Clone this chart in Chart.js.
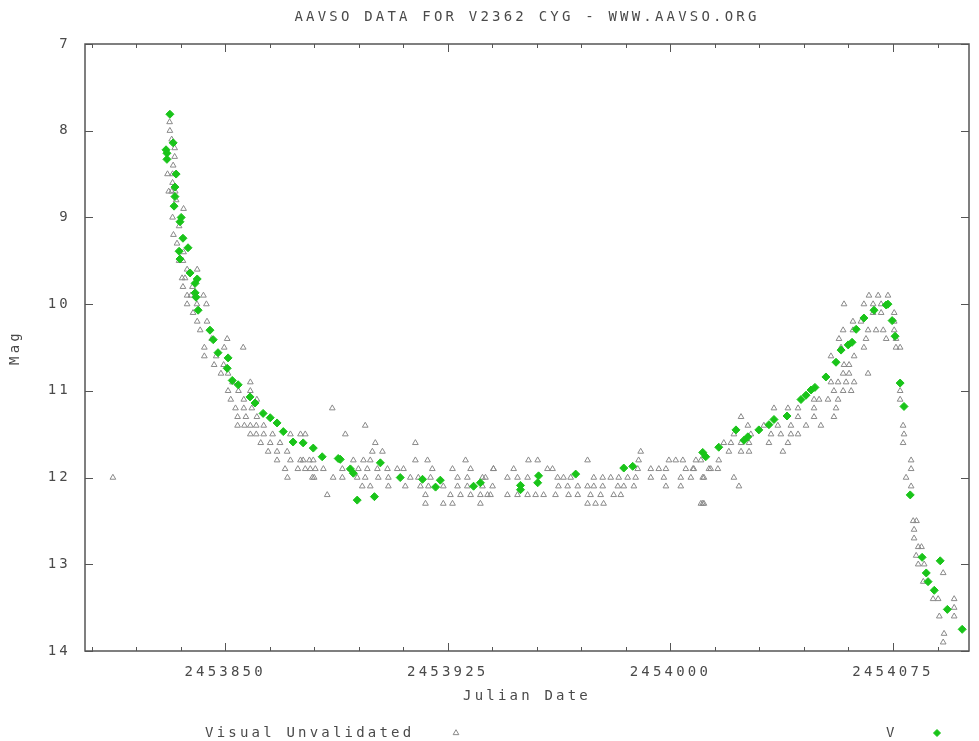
<html>
<head>
<style>
  body { margin: 0; background: #fff; }
  canvas { display: block; }
</style>
<script src="https://cdn.jsdelivr.net/npm/chart.js@4.4.0/dist/chart.umd.min.js"></script>
</head>
<body>
<canvas id="lc" width="979" height="741"></canvas>
<script>
// AAVSO light curve of V2362 Cyg
var titleText = 'AAVSO DATA FOR V2362 CYG - WWW.AAVSO.ORG';
var xMajorTicks = [2453850, 2453925, 2454000, 2454075];
var xMinorTicks = [2453805, 2453820, 2453835, 2453850, 2453865, 2453880, 2453895, 2453910, 2453925,
  2453940, 2453955, 2453970, 2453985, 2454000, 2454015, 2454030, 2454045, 2454060, 2454075, 2454090];
var yTicks = [7, 8, 9, 10, 11, 12, 13, 14];

// Visual Unvalidated (grey triangles)
var visJD = [
  2453812.2,
  2453831.3, 2453831.4, 2453832.0, 2453833.0, 2453833.0, 2453832.5, 2453830.6, 2453832.3, 2453832.3, 2453831.0,
  2453832.0, 2453833.2, 2453833.5, 2453836.0, 2453832.3, 2453834.5, 2453832.6, 2453833.8, 2453836.0, 2453835.8,
  2453837.2, 2453840.6, 2453835.5, 2453835.8, 2453839.0, 2453837.2, 2453842.7, 2453837.2, 2453843.7, 2453839.2,
  2453840.6, 2453843.9, 2453841.6, 2453850.7, 2453843.0, 2453849.7, 2453856.1, 2453843.0, 2453846.3, 2453848.6,
  2453851.0, 2453858.5, 2453851.0, 2453858.5, 2453851.9, 2453856.3, 2453860.7, 2453856.3, 2453854.2, 2453860.7,
  2453854.2, 2453858.5, 2453863.0, 2453858.5, 2453863.0, 2453872.0, 2453875.4, 2453865.2, 2453867.5, 2453870.9,
  2453867.5, 2453875.4, 2453878.4, 2453870.2, 2453878.7,
  2453852.5, 2453854.5, 2453853.5, 2453859.0, 2453857.0, 2453856.5, 2453860.5, 2453860.5, 2453866.0, 2453862.0,
  2453868.5, 2453864.5, 2453872.0, 2453874.5, 2453871.0, 2453880.0, 2453845.5, 2453847.0, 2453849.5, 2453838.5,
  2453840.5, 2453834.5, 2453836.5,
  2453886.1, 2453897.2, 2453890.5, 2453877.0, 2453900.6, 2453914.1, 2453899.6, 2453903.0,
  2453876.3, 2453879.7, 2453893.2, 2453896.6, 2453898.9, 2453914.1, 2453918.2, 2453931.0,
  2453877.0, 2453880.4, 2453883.1, 2453889.5, 2453892.2, 2453894.9, 2453897.9, 2453901.3, 2453904.7, 2453908.0,
  2453910.1, 2453919.8, 2453926.6, 2453932.7, 2453940.4,
  2453879.4, 2453886.4, 2453889.5, 2453894.5, 2453897.2, 2453901.6, 2453905.0, 2453912.4, 2453915.1, 2453919.2,
  2453928.3, 2453931.6, 2453936.7,
  2453896.2, 2453898.9, 2453905.0, 2453910.7, 2453915.8, 2453918.5, 2453923.5, 2453928.3, 2453931.6, 2453936.7,
  2453940.1,
  2453884.4, 2453917.5, 2453925.9, 2453929.3, 2453932.7, 2453936.0, 2453939.4,
  2453917.5, 2453923.5, 2453926.6, 2453936.0,
  2453990.0,
  2453952.2, 2453955.3, 2453972.1, 2453989.3, 2453999.5, 2454001.8, 2454004.2, 2454010.3,
  2453940.4, 2453947.2, 2453958.6, 2453960.3, 2453989.0, 2453993.4, 2453996.1, 2453998.5, 2454005.2, 2454007.9,
  2454013.6,
  2453937.7, 2453945.1, 2453948.5, 2453951.9, 2453962.0, 2453964.0, 2453966.4, 2453974.2, 2453977.2, 2453979.9,
  2453982.6, 2453985.6, 2453988.3, 2453993.4, 2453997.8, 2454003.5, 2454010.9,
  2453962.3, 2453965.4, 2453968.8, 2453972.1, 2453974.2, 2453977.2, 2453982.3, 2453984.3, 2453987.7, 2453998.5,
  2454003.5,
  2453938.4, 2453945.1, 2453948.5, 2453951.9, 2453954.6, 2453957.3, 2453961.3, 2453965.7, 2453968.8, 2453973.1,
  2453976.5, 2453980.9, 2453983.3,
  2453972.1, 2453974.8, 2453977.5, 2454010.9, 2454011.3, 2454010.3,
  2454007.6, 2454013.0, 2454016.0, 2454008.6, 2454016.3, 2454006.9, 2454011.3, 2454021.4, 2454023.1,
  2454019.7, 2454023.8, 2454026.5, 2454037.9,
  2454018.0, 2454020.4, 2454023.8, 2454026.5, 2454033.2, 2454039.6,
  2454021.4, 2454027.1, 2454033.9, 2454037.2, 2454040.6, 2454043.0,
  2454026.1, 2454031.5, 2454036.2, 2454040.6, 2454045.7, 2454050.7,
  2454023.8, 2454043.0, 2454048.4, 2454055.1,
  2454034.9, 2454039.6, 2454043.0, 2454048.4, 2454055.8,
  2454048.4, 2454050.1, 2454053.1, 2454056.5,
  2454055.1, 2454058.2, 2454060.9,
  2454054.1, 2454056.5, 2454059.2, 2454061.9,
  2454058.2, 2454060.2, 2454066.6,
  2454058.5, 2454060.2,
  2454054.1, 2454061.9,
  2454057.5, 2454065.2, 2454076.0,
  2454056.8, 2454065.9, 2454072.7, 2454076.0,
  2454058.2, 2454061.5, 2454066.6, 2454069.3, 2454071.7, 2454075.4,
  2454061.5, 2454064.2, 2454075.4,
  2454068.3, 2454071.0, 2454075.4,
  2454058.5, 2454065.2, 2454068.3, 2454071.0,
  2454066.9, 2454070.0, 2454073.3,
  2454077.4, 2454077.4, 2454077.4, 2454078.4, 2454078.7, 2454078.4, 2454081.1, 2454081.1, 2454079.4, 2454081.1,
  2454081.8, 2454082.9, 2454082.1, 2454082.1, 2454083.5, 2454084.6, 2454082.8, 2454083.5, 2454085.5, 2454091.9,
  2454085.2, 2454088.5, 2454090.2, 2454095.6, 2454095.6, 2454090.6, 2454095.6, 2454092.2, 2454091.9
];
var visMag = [
  12.0,
  7.9, 8.0, 8.1, 8.2, 8.3, 8.4, 8.5, 8.5, 8.6, 8.7,
  8.7, 8.7, 8.8, 8.9, 9.0, 9.1, 9.2, 9.3, 9.4, 9.5,
  9.6, 9.6, 9.7, 9.8, 9.8, 9.9, 9.9, 10.0, 10.0, 10.1,
  10.2, 10.2, 10.3, 10.4, 10.5, 10.5, 10.5, 10.6, 10.7, 10.8,
  10.8, 10.9, 11.0, 11.0, 11.1, 11.1, 11.1, 11.2, 11.3, 11.3,
  11.4, 11.4, 11.4, 11.5, 11.5, 11.5, 11.5, 11.6, 11.7, 11.7,
  11.8, 11.8, 11.8, 11.9, 11.9,
  10.9, 11.0, 11.2, 11.2, 11.3, 11.4, 11.4, 11.5, 11.5, 11.6,
  11.6, 11.7, 11.8, 11.9, 12.0, 12.0, 10.4, 10.6, 10.7, 9.9,
  10.0, 9.5, 9.7,
  11.2, 11.4, 11.5, 11.5, 11.6, 11.6, 11.7, 11.7,
  11.8, 11.8, 11.8, 11.8, 11.8, 11.8, 11.8, 11.8,
  11.9, 11.9, 11.9, 11.9, 11.9, 11.9, 11.9, 11.9, 11.9, 11.9,
  11.9, 11.9, 11.9, 11.9, 11.9,
  12.0, 12.0, 12.0, 12.0, 12.0, 12.0, 12.0, 12.0, 12.0, 12.0,
  12.0, 12.0, 12.0,
  12.1, 12.1, 12.1, 12.1, 12.1, 12.1, 12.1, 12.1, 12.1, 12.1,
  12.1,
  12.2, 12.2, 12.2, 12.2, 12.2, 12.2, 12.2,
  12.3, 12.3, 12.3, 12.3,
  11.7,
  11.8, 11.8, 11.8, 11.8, 11.8, 11.8, 11.8, 11.8,
  11.9, 11.9, 11.9, 11.9, 11.9, 11.9, 11.9, 11.9, 11.9, 11.9,
  11.9,
  12.0, 12.0, 12.0, 12.0, 12.0, 12.0, 12.0, 12.0, 12.0, 12.0,
  12.0, 12.0, 12.0, 12.0, 12.0, 12.0, 12.0,
  12.1, 12.1, 12.1, 12.1, 12.1, 12.1, 12.1, 12.1, 12.1, 12.1,
  12.1,
  12.2, 12.2, 12.2, 12.2, 12.2, 12.2, 12.2, 12.2, 12.2, 12.2,
  12.2, 12.2, 12.2,
  12.3, 12.3, 12.3, 12.3, 12.3, 12.3,
  11.9, 11.9, 11.9, 11.8, 11.8, 12.0, 12.0, 12.0, 12.1,
  11.7, 11.7, 11.7, 11.7,
  11.6, 11.6, 11.6, 11.6, 11.6, 11.6,
  11.5, 11.5, 11.5, 11.5, 11.5, 11.5,
  11.4, 11.4, 11.4, 11.4, 11.4, 11.4,
  11.3, 11.3, 11.3, 11.3,
  11.2, 11.2, 11.2, 11.2, 11.2,
  11.1, 11.1, 11.1, 11.1,
  11.0, 11.0, 11.0,
  10.9, 10.9, 10.9, 10.9,
  10.8, 10.8, 10.8,
  10.7, 10.7,
  10.6, 10.6,
  10.5, 10.5, 10.5,
  10.4, 10.4, 10.4, 10.4,
  10.3, 10.3, 10.3, 10.3, 10.3, 10.3,
  10.2, 10.2, 10.2,
  10.1, 10.1, 10.1,
  10.0, 10.0, 10.0, 10.0,
  9.9, 9.9, 9.9,
  10.5, 11.0, 11.1, 11.4, 11.5, 11.6, 11.8, 11.9, 12.0, 12.1,
  12.5, 12.5, 12.6, 12.7, 12.8, 12.8, 12.9, 13.0, 13.0, 13.1,
  13.2, 13.4, 13.4, 13.4, 13.5, 13.6, 13.6, 13.8, 13.9
];

// V (green)
var vJD = [
  2453830.1, 2453830.4, 2453830.4, 2453831.4, 2453832.5, 2453833.5, 2453833.1, 2453833.1, 2453832.8, 2453835.2,
  2453834.8, 2453835.8, 2453837.5, 2453834.5, 2453834.8, 2453838.2, 2453840.6, 2453839.9, 2453839.9, 2453840.2,
  2453840.9, 2453844.9, 2453846.0, 2453847.6, 2453851.0, 2453850.7, 2453852.4, 2453854.4, 2453858.4, 2453860.1,
  2453862.8, 2453865.2, 2453867.5, 2453869.6, 2453872.9, 2453876.3, 2453879.7, 2453882.7, 2453888.1, 2453888.8,
  2453892.2, 2453893.2, 2453902.3, 2453909.0, 2453916.5, 2453922.5, 2453920.9, 2453933.7, 2453936.0, 2453949.5,
  2453949.5, 2453955.6, 2453955.3, 2453968.1, 2453984.3, 2453987.3, 2454010.9, 2454011.9, 2454016.3, 2454022.1,
  2454024.8, 2454026.1, 2454029.8, 2454033.2, 2454034.9, 2454039.3, 2454044.0, 2454045.7, 2454047.4, 2454048.7,
  2454052.4, 2454055.8, 2454057.5, 2454059.9, 2454061.2, 2454062.6, 2454065.2, 2454068.6, 2454072.7, 2454073.3,
  2454074.7, 2454075.7, 2454077.4, 2454078.7, 2454080.8, 2454084.8, 2454090.9, 2454086.2, 2454086.8, 2454088.9,
  2454093.3, 2454098.3, 2453894.5, 2453900.3
];
var vMag = [
  8.22, 8.26, 8.33, 7.81, 8.14, 8.50, 8.65, 8.76, 8.87, 9.00,
  9.05, 9.24, 9.35, 9.39, 9.48, 9.64, 9.71, 9.76, 9.87, 9.92,
  10.07, 10.30, 10.41, 10.56, 10.62, 10.74, 10.88, 10.93, 11.07, 11.14,
  11.26, 11.31, 11.37, 11.47, 11.59, 11.60, 11.66, 11.76, 11.78, 11.79,
  11.90, 11.95, 11.83, 12.00, 12.02, 12.03, 12.11, 12.10, 12.06, 12.09,
  12.14, 11.98, 12.06, 11.96, 11.89, 11.87, 11.71, 11.76, 11.65, 11.45,
  11.57, 11.53, 11.45, 11.39, 11.33, 11.29, 11.10, 11.05, 10.99, 10.96,
  10.84, 10.67, 10.53, 10.47, 10.44, 10.29, 10.16, 10.07, 10.01, 10.00,
  10.19, 10.37, 10.91, 11.18, 12.20, 12.92, 12.96, 13.10, 13.20, 13.30,
  13.52, 13.75, 12.26, 12.22
];

var textFont = { family: 'DejaVu Sans Mono', size: 14, weight: 'normal' };
var textColor = '#4a4a4a';
var greyPt = '#8a8a8a';
var greenPt = '#19c419';

function pairs(xs, ys) {
  return xs.map(function (x, i) { return { x: x, y: ys[i] }; });
}

function spacing(chart) {
  chart.ctx.letterSpacing = '3.2px';
}

// gnuplot-like frame: border box with inward ticks, plus the key under the axis title
var framePlugin = {
  id: 'frame',
  beforeUpdate: spacing,
  beforeDraw: spacing,
  afterDraw: function (chart) {
    var ctx = chart.ctx, a = chart.chartArea;
    var xs = chart.scales.x, ys = chart.scales.y;
    ctx.save();
    ctx.strokeStyle = '#555';
    ctx.lineWidth = 1.5;
    ctx.strokeRect(a.left, a.top, a.right - a.left, a.bottom - a.top);
    ctx.lineWidth = 1;
    ctx.beginPath();
    xMinorTicks.forEach(function (v) {
      if (v <= xs.min || v >= xs.max) return;
      var px = Math.round(xs.getPixelForValue(v)) + 0.5;
      var len = xMajorTicks.indexOf(v) >= 0 ? 8 : 4;
      ctx.moveTo(px, a.bottom); ctx.lineTo(px, a.bottom - len);
      ctx.moveTo(px, a.top); ctx.lineTo(px, a.top + len);
    });
    yTicks.forEach(function (v) {
      var py = Math.round(ys.getPixelForValue(v)) + 0.5;
      ctx.moveTo(a.left, py); ctx.lineTo(a.left + 8, py);
      ctx.moveTo(a.right, py); ctx.lineTo(a.right - 8, py);
    });
    ctx.stroke();

    // key
    var ky = 733;
    ctx.font = textFont.size + 'px "' + textFont.family + '"';
    ctx.fillStyle = textColor;
    ctx.textBaseline = 'middle';
    ctx.textAlign = 'left';
    ctx.fillText(chart.data.datasets[1].label, 205, ky);
    ctx.fillText(chart.data.datasets[0].label, 886, ky);
    ctx.fillStyle = 'rgba(0,0,0,0)';
    ctx.strokeStyle = greyPt;
    Chart.helpers.drawPoint(ctx, { pointStyle: 'triangle', radius: 3.3, borderWidth: 1 }, 456, ky);
    ctx.fillStyle = greenPt;
    ctx.strokeStyle = greenPt;
    Chart.helpers.drawPoint(ctx, { pointStyle: 'rectRot', radius: 3.5, borderWidth: 1 }, 937, ky);
    ctx.restore();
  }
};

new Chart(document.getElementById('lc'), {
  type: 'scatter',
  data: {
    datasets: [
      {
        label: 'V',
        data: pairs(vJD, vMag),
        order: 0,
        pointStyle: 'rectRot',
        pointRadius: 4,
        pointBackgroundColor: greenPt,
        pointBorderColor: greenPt,
        pointBorderWidth: 1
      },
      {
        label: 'Visual Unvalidated',
        data: pairs(visJD, visMag),
        order: 1,
        pointStyle: 'triangle',
        pointRadius: 3.3,
        pointBackgroundColor: 'rgba(0,0,0,0)',
        pointBorderColor: greyPt,
        pointBorderWidth: 1
      }
    ]
  },
  options: {
    responsive: false,
    animation: false,
    layout: { padding: { left: 0, right: 10, top: 0, bottom: 0 } },
    plugins: {
      legend: { display: false },
      tooltip: { enabled: false },
      title: {
        display: true,
        fullSize: false,
        text: titleText,
        color: textColor,
        font: textFont,
        padding: { top: 9, bottom: 18.2 }
      }
    },
    scales: {
      x: {
        type: 'linear',
        min: 2453802.8,
        max: 2454100.6,
        grid: { display: false, drawTicks: false },
        border: { display: false },
        afterBuildTicks: function (s) { s.ticks = xMajorTicks.map(function (v) { return { value: v }; }); },
        afterFit: function (s) { s.height = 90; },
        ticks: {
          autoSkip: false,
          maxRotation: 0,
          padding: 13,
          color: textColor,
          font: textFont,
          callback: function (v) { return String(v); }
        },
        title: {
          display: true,
          text: 'Julian Date',
          color: textColor,
          font: textFont,
          padding: { top: 0, bottom: 36 }
        }
      },
      y: {
        reverse: true,
        min: 7,
        max: 14,
        grid: { display: false, drawTicks: false },
        border: { display: false },
        afterBuildTicks: function (s) { s.ticks = yTicks.map(function (v) { return { value: v }; }); },
        afterFit: function (s) { s.width = 85; },
        ticks: {
          padding: 14,
          color: textColor,
          font: textFont
        },
        title: {
          display: true,
          text: 'Mag',
          color: textColor,
          font: textFont,
          padding: { top: 7, bottom: 0 }
        }
      }
    }
  },
  plugins: [framePlugin]
});
</script>
</body>
</html>
